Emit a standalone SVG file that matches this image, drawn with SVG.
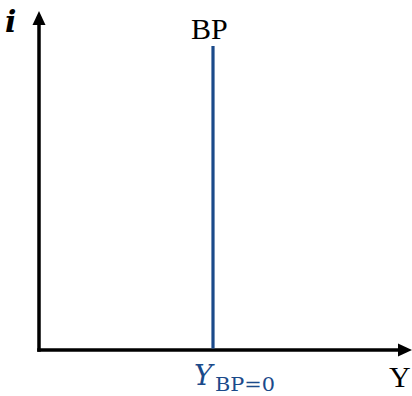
<svg xmlns="http://www.w3.org/2000/svg" width="412" height="396" viewBox="0 0 412 396">
<style>
.ax{stroke:#000;stroke-width:3.5;fill:none}
.t{font-family:"Liberation Serif","Times New Roman",serif;fill:#000}
.d{font-family:"DejaVu Serif","Liberation Serif",serif}
.b{fill:#1B4A8A}
</style>
<rect width="412" height="396" fill="#fff"/>
<g id="axes">
<line class="ax" x1="39" y1="22" x2="39" y2="351.75"/>
<polygon points="39,11 32.5,25 45.5,25" fill="#000"/>
<line class="ax" x1="37.25" y1="350" x2="400" y2="350"/>
<polygon points="412,350 398,343.5 398,356.5" fill="#000"/>
</g>
<g id="bp-line">
<line x1="213" y1="46" x2="213" y2="348.5" stroke="#1B4A8A" stroke-width="3.2"/>
</g>
<g id="labels">
<text class="t d" x="5" y="32" font-size="30" font-weight="bold" font-style="italic">i</text>
<text class="t" x="191" y="39" font-size="30">BP</text>
<text class="t" x="389" y="387" font-size="30">Y</text>
<text class="t d b" x="194" y="385" font-size="28" font-style="italic">Y</text>
<text class="t d b" x="215" y="391" font-size="19" textLength="60" lengthAdjust="spacingAndGlyphs">BP=0</text>
</g>
</svg>
